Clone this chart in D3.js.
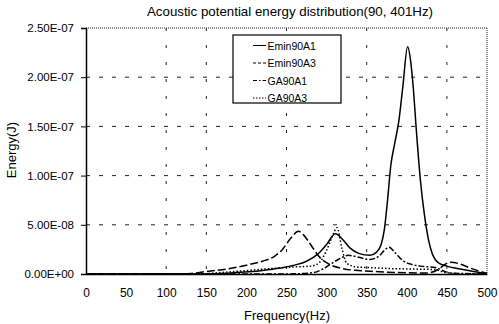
<!DOCTYPE html>
<html>
<head>
<meta charset="utf-8">
<script src="https://cdn.jsdelivr.net/npm/d3@7"></script>
<style>
  html, body { margin: 0; padding: 0; background: #fff; overflow: hidden; }
  svg { display: block; }
  text { font-family: "Liberation Sans", Arial, sans-serif; fill: #000; }
</style>
</head>
<body>
<div id="chart"></div>
<script>
// Acoustic potential energy vs frequency (J)

const xTicks = [0, 50, 100, 150, 200, 250, 300, 350, 400, 450, 500];
const yTicks = [0, 0.5e-7, 1.0e-7, 1.5e-7, 2.0e-7, 2.5e-7];
const yTickLabels = ["0.00E+00", "5.00E-08", "1.00E-07", "1.50E-07", "2.00E-07", "2.50E-07"];
const gridX = [100, 150, 250, 350, 450];

const seriesNames = ["Emin90A1", "Emin90A3", "GA90A1", "GA90A3"];

// frequency (Hz), energy in units of 1e-8 J
const emin90A1Freq = [0, 150, 180, 220, 242, 260, 275, 290, 300, 311, 320, 329, 340, 354, 362, 368, 372, 376, 380, 385, 390, 395, 401, 405, 408, 412, 417, 422, 427, 432, 440, 450, 460, 470, 480, 490, 500];
const emin90A1Val  = [0, 0, 0.1, 0.35, 0.6, 0.9, 1.3, 2.1, 3.0, 4.08, 3.5, 2.65, 2.1, 1.9, 2.2, 3.0, 4.5, 7.5, 11.0, 13.3, 15.5, 19.0, 23.1, 21.5, 19.0, 14.5, 9.5, 6.0, 3.5, 2.0, 1.1, 0.8, 0.6, 0.45, 0.3, 0.15, 0.05];

const emin90A3Freq = [0, 115, 130, 150, 175, 200, 220, 235, 245, 255, 265, 272, 280, 292, 304, 320, 340, 360, 400, 425, 440, 448, 455, 466, 479, 490, 500];
const emin90A3Val  = [0, 0, 0.05, 0.25, 0.5, 0.9, 1.3, 1.8, 2.5, 3.6, 4.34, 3.9, 3.0, 1.64, 0.96, 0.55, 0.35, 0.25, 0.12, 0.1, 0.5, 1.0, 1.2, 1.03, 0.6, 0.3, 0.05];

const ga90A1Freq = [0, 250, 270, 284, 295, 304, 315, 327, 340, 354, 365, 372, 378, 385, 396, 405, 417, 437, 446, 455, 470, 500];
const ga90A1Val  = [0, 0, 0.05, 0.15, 0.5, 0.96, 1.5, 1.9, 1.7, 1.47, 1.8, 2.4, 2.72, 2.2, 1.3, 1.0, 0.8, 0.63, 0.3, 0.1, 0.05, 0];

const ga90A3Freq = [0, 140, 160, 200, 230, 255, 280, 290, 300, 307, 313, 319, 325, 338, 354, 380, 410, 435, 445, 460, 500];
const ga90A3Val  = [0, 0, 0.1, 0.35, 0.55, 0.7, 0.8, 1.1, 2.4, 3.8, 4.7, 2.65, 1.1, 0.7, 0.65, 0.55, 0.5, 0.45, 0.2, 0.05, 0];

const dashes = ["none", "8,3", "6,2,2,2", "1.5,2"];
const legendDashes = ["none", "3,2", "4,2,1.5,2", "1.5,1.5"];

const width = 499, height = 324;
const margin = { top: 28, right: 12, bottom: 50, left: 86 };
const innerWidth = width - margin.left - margin.right;
const innerHeight = height - margin.top - margin.bottom;

const toPoints = (fs, vs) => fs.map((f, i) => ({ f, e: vs[i] * 1e-8 }));
const series = [
  toPoints(emin90A1Freq, emin90A1Val),
  toPoints(emin90A3Freq, emin90A3Val),
  toPoints(ga90A1Freq, ga90A1Val),
  toPoints(ga90A3Freq, ga90A3Val)
];

// centre a text on its x without relying on text-anchor
function centerText(sel) {
  sel.each(function () {
    const t = d3.select(this);
    const w = this.getComputedTextLength();
    const x0 = +t.attr("x") || 0;
    t.attr("text-anchor", "start").attr("x", x0 - w / 2);
  });
}

const svg = d3.select("#chart").append("svg")
  .attr("width", width)
  .attr("height", height);

const g = svg.append("g")
  .attr("transform", `translate(${margin.left},${margin.top})`);

const x = d3.scaleLinear().domain([0, 500]).range([0, innerWidth]);
const y = d3.scaleLinear().domain([0, 2.5e-7]).range([innerHeight, 0]);

// grid lines
g.selectAll(".hgrid")
  .data(yTicks.filter((d) => d > 0 && d < 2.5e-7))
  .enter().append("line")
  .attr("x1", 0).attr("x2", innerWidth)
  .attr("y1", (d) => y(d)).attr("y2", (d) => y(d))
  .attr("stroke", "#222")
  .attr("stroke-width", 1)
  .attr("stroke-dasharray", "4,9");

g.selectAll(".vgrid")
  .data(gridX)
  .enter().append("line")
  .attr("x1", (d) => x(d)).attr("x2", (d) => x(d))
  .attr("y1", 0).attr("y2", innerHeight)
  .attr("stroke", "#222")
  .attr("stroke-width", 1)
  .attr("stroke-dasharray", "3,14");

// dotted top and right border
g.append("line")
  .attr("x1", 0).attr("x2", innerWidth).attr("y1", 0).attr("y2", 0)
  .attr("stroke", "#222").attr("stroke-dasharray", "1,1");
g.append("line")
  .attr("x1", innerWidth).attr("x2", innerWidth).attr("y1", 0).attr("y2", innerHeight)
  .attr("stroke", "#222").attr("stroke-dasharray", "1,1");

// axes
const yAxis = d3.axisLeft(y)
  .tickValues(yTicks)
  .tickFormat((d, i) => yTickLabels[i])
  .tickSizeOuter(0)
  .tickSize(5)
  .tickPadding(7);

const xAxis = d3.axisBottom(x)
  .tickValues(xTicks)
  .tickSizeOuter(0)
  .tickSize(0)
  .tickPadding(14);

const yg = g.append("g").call(yAxis);
const xg = g.append("g").attr("transform", `translate(0,${innerHeight})`).call(xAxis);

[yg, xg].forEach((a) => {
  a.attr("font-family", null).attr("font-size", null);
  a.select(".domain").attr("stroke", "#000").attr("stroke-width", 1.5);
  a.selectAll("line").attr("stroke", "#000");
  a.selectAll("text").style("font-size", "11.5px").attr("fill", "#000");
});
xg.selectAll("text").style("font-size", "12px").call(centerText);

// curves
const line = d3.line()
  .x((d) => x(d.f))
  .y((d) => y(d.e))
  .curve(d3.curveMonotoneX);

g.selectAll(".curve")
  .data(series)
  .enter().append("path")
  .attr("d", line)
  .attr("fill", "none")
  .attr("stroke", "#000")
  .attr("stroke-width", 1.5)
  .attr("stroke-dasharray", (d, i) => dashes[i]);

// legend
const legend = svg.append("g").attr("transform", "translate(233,35)");
legend.append("rect")
  .attr("width", 108).attr("height", 68)
  .attr("fill", "#fff").attr("stroke", "#000").attr("stroke-width", 1.2);

seriesNames.forEach((name, i) => {
  const ly = 10.5 + i * 17.5;
  legend.append("line")
    .attr("x1", 20).attr("x2", 33)
    .attr("y1", ly).attr("y2", ly)
    .attr("stroke", "#000").attr("stroke-width", 1)
    .attr("stroke-dasharray", legendDashes[i]);
  legend.append("text")
    .attr("x", 34.5).attr("y", ly + 4)
    .style("font-size", "10.5px")
    .text(name);
});

// titles
svg.append("text")
  .attr("x", 290).attr("y", 16)
  .style("font-size", "13.3px")
  .text("Acoustic potential energy distribution(90, 401Hz)")
  .call(centerText);

svg.append("text")
  .attr("x", 287).attr("y", 320)
  .style("font-size", "13px")
  .text("Frequency(Hz)")
  .call(centerText);

svg.append("text")
  .attr("transform", "translate(16,150) rotate(-90)")
  .attr("x", 0).attr("y", 0)
  .style("font-size", "13px")
  .text("Energy(J)")
  .call(centerText);
</script>
</body>
</html>
